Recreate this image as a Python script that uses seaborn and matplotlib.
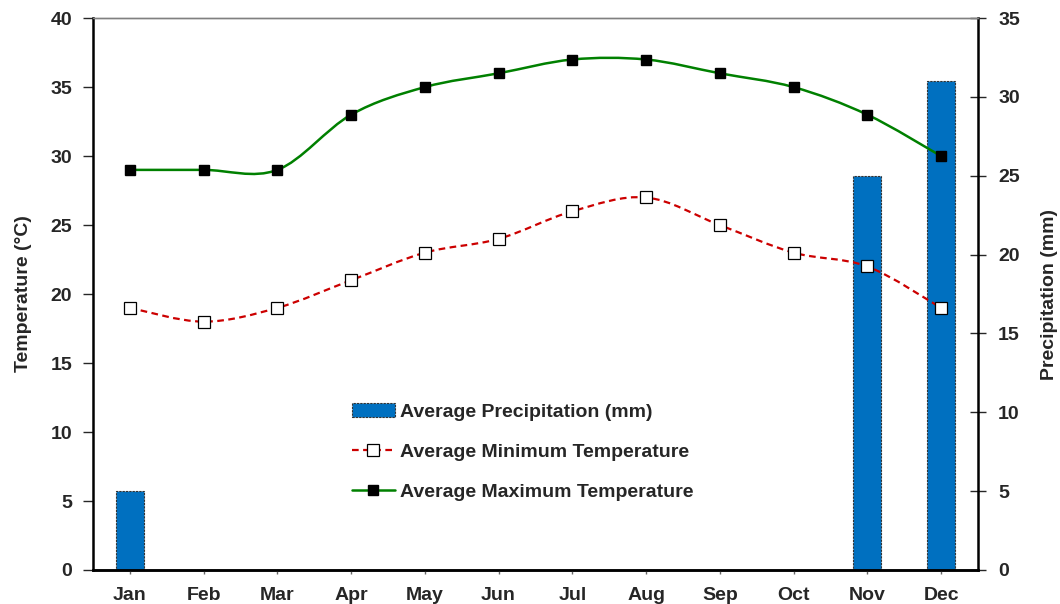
import numpy as np
import pandas as pd
import matplotlib
matplotlib.use("Agg")
import matplotlib.pyplot as plt
import seaborn as sns
from matplotlib.path import Path
from matplotlib.patches import PathPatch, Patch
from matplotlib.lines import Line2D

# Data
months = ["Jan", "Feb", "Mar", "Apr", "May", "Jun", "Jul", "Aug", "Sep", "Oct", "Nov", "Dec"]
precip = [5, 0, 0, 0, 0, 0, 0, 0, 0, 0, 25, 31]
t_min = [19, 18, 19, 21, 23, 24, 26, 27, 25, 23, 22, 19]
t_max = [29, 29, 29, 33, 35, 36, 37, 37, 36, 35, 33, 30]

sns.set_style("white")
plt.rcParams["font.family"] = ["Liberation Sans", "DejaVu Sans"]
plt.rcParams["font.weight"] = "bold"

FS = 14


def smooth_path(x, y):
    # Excel-like smoothed line drawn as cubic bezier segments through the points
    pts = np.column_stack([x, y]).astype(float)
    n = len(pts)
    verts = [pts[0]]
    codes = [Path.MOVETO]
    for i in range(n - 1):
        p0 = pts[i - 1] if i > 0 else pts[i]
        p1 = pts[i]
        p2 = pts[i + 1]
        p3 = pts[i + 2] if i + 2 < n else pts[i + 1]
        c1 = p1 + (p2 - p0) / 6.0
        c2 = p2 - (p3 - p1) / 6.0
        verts += [c1, c2, p2]
        codes += [Path.CURVE4] * 3
    return Path(verts, codes)


df = pd.DataFrame({"month": months, "precip": precip, "tmin": t_min, "tmax": t_max})
xpos = np.arange(len(months))

fig, ax = plt.subplots(figsize=(10.6, 6.04), dpi=100)
fig.subplots_adjust(left=0.0877, right=0.9226, top=0.970, bottom=0.0563)
ax2 = ax.twinx()

# bars on the right (precipitation) axis, drawn underneath the lines
sns.barplot(data=df, x="month", y="precip", ax=ax2, color="#0070C0", saturation=1,
            width=0.38, edgecolor="#333333", linewidth=0.8, linestyle=(0, (2, 1)))
ax.set_zorder(ax2.get_zorder() + 1)
ax.patch.set_visible(False)

# temperature lines
ax.add_patch(PathPatch(smooth_path(xpos, t_min), facecolor="none", edgecolor="#CC0000",
                       lw=1.6, linestyle=(0, (3, 2))))
ax.add_patch(PathPatch(smooth_path(xpos, t_max), facecolor="none", edgecolor="#008000", lw=1.8))
ax.plot(xpos, t_min, linestyle="none", marker="s", markersize=8, markerfacecolor="white",
        markeredgecolor="black", markeredgewidth=0.9)
ax.plot(xpos, t_max, linestyle="none", marker="s", markersize=7, color="black")

ax.set_xlim(-0.5, 11.5)
ax.set_ylim(0, 40)
ax2.set_ylim(0, 35)
ax.set_yticks(range(0, 41, 5))
ax2.set_yticks(range(0, 36, 5))
ax.set_xticks(xpos)
ax.set_xticklabels(months)
ax2.set_xlabel("")
ax2.set_ylabel("")

ax.set_ylabel("Temperature (°C)", fontsize=FS, fontweight="bold", labelpad=13)
ax2.set_ylabel("Precipitation (mm)", fontsize=FS, fontweight="bold", labelpad=15)

for a in (ax, ax2):
    for side in ("left", "right", "bottom"):
        a.spines[side].set_color("black")
        a.spines[side].set_linewidth(1.8)
    a.spines["top"].set_color("#808080")
    a.spines["top"].set_linewidth(1.0)
ax.spines["right"].set_visible(False)
ax2.spines["left"].set_visible(False)

ax.tick_params(axis="y", direction="out", length=7, width=1, labelsize=FS, pad=8, left=True)
ax.tick_params(axis="x", direction="out", length=3, width=1, color="#666666",
               labelsize=FS, pad=9, bottom=True)
ax2.tick_params(axis="y", direction="inout", length=11, width=1, labelsize=FS, pad=9, right=True)
for lbl in ax.get_xticklabels() + ax.get_yticklabels() + ax2.get_yticklabels():
    lbl.set_fontweight("bold")

handles = [
    Patch(facecolor="#0070C0", edgecolor="#333333", linestyle=(0, (2, 1)), linewidth=0.8),
    Line2D([], [], color="#CC0000", lw=1.6, linestyle=(0, (3, 2)), marker="s", markersize=8,
           markerfacecolor="white", markeredgecolor="black", markeredgewidth=0.9),
    Line2D([], [], color="#008000", lw=1.8, marker="s", markersize=7, markerfacecolor="black",
           markeredgecolor="black"),
]
labels = ["Average Precipitation (mm)", "Average Minimum Temperature", "Average Maximum Temperature"]
ax.legend(handles, labels, loc="upper left", bbox_to_anchor=(0.273, 0.3335), frameon=False,
          prop={"size": FS, "weight": "bold"}, handlelength=2.2, handletextpad=0.26,
          labelspacing=1.15)

fig.savefig("out.png", dpi=100)
